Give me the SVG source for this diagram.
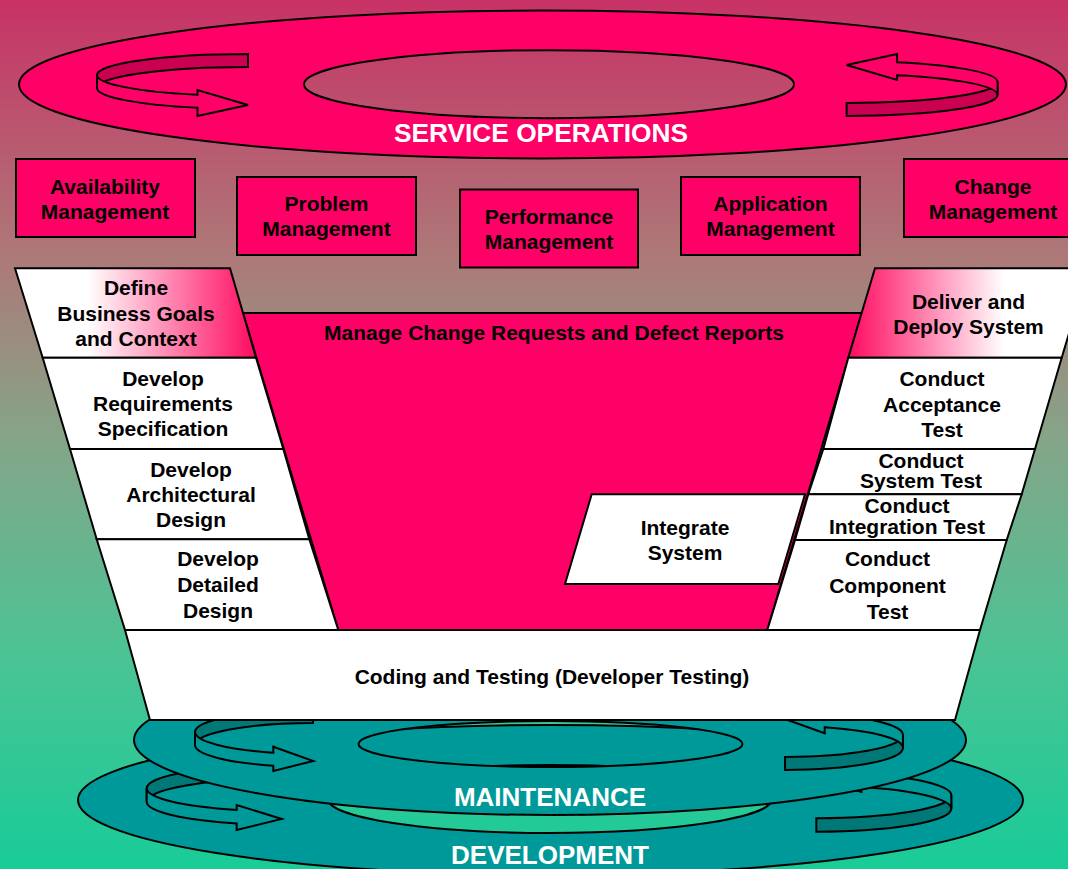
<svg xmlns="http://www.w3.org/2000/svg" width="1068" height="869" viewBox="0 0 1068 869">
<defs>
<linearGradient id="bg" gradientUnits="userSpaceOnUse" x1="0" y1="0" x2="0" y2="869">
<stop offset="0" stop-color="#C83266"/>
<stop offset="0.3" stop-color="#AC7A78"/>
<stop offset="0.5" stop-color="#86A488"/>
<stop offset="0.75" stop-color="#4CC394"/>
<stop offset="1" stop-color="#18CC98"/>
</linearGradient>
<linearGradient id="gl" x1="0" y1="0" x2="1" y2="0">
<stop offset="0" stop-color="#FFFFFF"/>
<stop offset="0.3" stop-color="#FFFFFF"/>
<stop offset="1" stop-color="#FF0A60"/>
</linearGradient>
<linearGradient id="gr" x1="0" y1="0" x2="1" y2="0">
<stop offset="0" stop-color="#FF0A60"/>
<stop offset="0.65" stop-color="#FFFFFF"/>
<stop offset="1" stop-color="#FFFFFF"/>
</linearGradient>
<path id="arrTopBack" d="M248,54 A151,21 0 0 0 97,75 L97,88 A151,21 0 0 1 248,67 Z"/>
<path id="arrTopFront" d="M97,75 A151,21 0 0 0 197.5,94.8 L197.5,90 L248,105 L197.5,116 L197.5,107.8 A151,21 0 0 1 97,88 Z"/>
<path id="arrMBack" d="M313,710 A118,22 0 0 0 195,732 L195,745 A118,22 0 0 1 313,723 Z"/>
<path id="arrMFront" d="M195,732 A118,22 0 0 0 273.3,752.7 L273.3,746.7 L313.3,761 L273.3,771 L273.3,765.7 A118,22 0 0 1 195,745 Z"/>
<path id="arrDBack" d="M281.7,765.3 A135,23 0 0 0 146.7,788.3 L146.7,801.7 A135,23 0 0 1 281.7,778.7 Z"/>
<path id="arrDFront" d="M146.7,788.3 A135,23 0 0 0 236.7,810 L236.7,805 L281.7,819 L236.7,830 L236.7,823.4 A135,23 0 0 1 146.7,801.7 Z"/>
</defs>
<style>
.s{stroke:#000;stroke-width:2;stroke-linejoin:miter}
.pk{fill:#FF0066}
.pkd{fill:#CC0050}
.tl{fill:#009999}
.tld{fill:#007878}
.wh{fill:#FFFFFF}
.t{font-family:"Liberation Sans",Arial,Helvetica,sans-serif;font-weight:bold;font-size:21px;fill:#000;text-anchor:middle}
.big{font-family:"Liberation Sans",Arial,Helvetica,sans-serif;font-weight:bold;font-size:26px;fill:#FFFFFF;text-anchor:middle}
</style>
<rect x="0" y="0" width="1068" height="869" fill="url(#bg)"/>

<g id="service-operations">
<path class="s pk" fill-rule="evenodd" d="M19,84.5 a523.5,74 0 1 0 1047,0 a523.5,74 0 1 0 -1047,0 Z M304,84.2 a245,34 0 1 0 490,0 a245,34 0 1 0 -490,0 Z"/>
<g id="service-arrow-left">
<use href="#arrTopBack" class="s pkd"/>
<use href="#arrTopFront" class="s pk"/>
</g>
<g id="service-arrow-right" transform="rotate(180 547.3 85)">
<use href="#arrTopBack" class="s pkd"/>
<use href="#arrTopFront" class="s pk"/>
</g>
<text class="big" x="541" y="142" style="font-size:26.3px">SERVICE OPERATIONS</text>
</g>

<g id="availability-management">
<rect class="s pk" x="16" y="159" width="179" height="78"/>
<text class="t" x="105" y="193.5">Availability</text>
<text class="t" x="105" y="218.5">Management</text>
</g>
<g id="problem-management">
<rect class="s pk" x="237" y="177" width="179" height="78"/>
<text class="t" x="326.5" y="211">Problem</text>
<text class="t" x="326.5" y="236">Management</text>
</g>
<g id="performance-management">
<rect class="s pk" x="460" y="189.5" width="178" height="78"/>
<text class="t" x="549" y="223.5">Performance</text>
<text class="t" x="549" y="248.5">Management</text>
</g>
<g id="application-management">
<rect class="s pk" x="681" y="177" width="179" height="78"/>
<text class="t" x="770.5" y="211">Application</text>
<text class="t" x="770.5" y="236">Management</text>
</g>
<g id="change-management">
<rect class="s pk" x="904" y="159" width="178" height="78"/>
<text class="t" x="993" y="193.5">Change</text>
<text class="t" x="993" y="218.5">Management</text>
</g>

<g id="development">
<path class="s tl" fill-rule="evenodd" d="M78,800 a472.5,75 0 1 0 945,0 a472.5,75 0 1 0 -945,0 Z M328,799 a222,34 0 1 0 444,0 a222,34 0 1 0 -444,0 Z"/>
<g id="development-arrow-left">
<use href="#arrDBack" class="s tld"/>
<use href="#arrDFront" class="s tl"/>
</g>
<g id="development-arrow-right" transform="rotate(180 549 798.5)">
<use href="#arrDBack" class="s tld"/>
<use href="#arrDFront" class="s tl"/>
</g>
<text class="big" x="550" y="864">DEVELOPMENT</text>
</g>

<g id="maintenance">
<path class="s tl" fill-rule="evenodd" d="M134,740 a416,75 0 1 0 832,0 a416,75 0 1 0 -832,0 Z M358.5,744 a192,23 0 1 0 384,0 a192,23 0 1 0 -384,0 Z"/>
<g id="maintenance-arrow-left">
<use href="#arrMBack" class="s tld"/>
<use href="#arrMFront" class="s tl"/>
</g>
<g id="maintenance-arrow-right" transform="rotate(180 549 740)">
<use href="#arrMBack" class="s tld"/>
<use href="#arrMFront" class="s tl"/>
</g>
<text class="big" x="550" y="806">MAINTENANCE</text>
</g>

<g id="manage-change-requests">
<polygon class="s pk" points="243,313 861.7,313 767.3,630 338.3,630"/>
<text class="t" x="554" y="340">Manage Change Requests and Defect Reports</text>
</g>

<g id="define-business-goals">
<polygon class="s" fill="url(#gl)" points="15,268.3 230,268.3 256,357.7 42.7,357.7"/>
<text class="t" x="136" y="294.5">Define</text>
<text class="t" x="136" y="320.5">Business Goals</text>
<text class="t" x="136" y="346">and Context</text>
</g>
<g id="develop-requirements">
<polygon class="s wh" points="42.7,357.7 256,357.7 283.3,449 70,449"/>
<text class="t" x="163" y="386">Develop</text>
<text class="t" x="163" y="411">Requirements</text>
<text class="t" x="163" y="436">Specification</text>
</g>
<g id="develop-architectural">
<polygon class="s wh" points="70,449 283.3,449 309.3,539.3 96.7,539.3"/>
<text class="t" x="191" y="477">Develop</text>
<text class="t" x="191" y="502">Architectural</text>
<text class="t" x="191" y="527">Design</text>
</g>
<g id="develop-detailed">
<polygon class="s wh" points="96.7,539.3 309.3,539.3 338.3,630 125,630"/>
<text class="t" x="218" y="566">Develop</text>
<text class="t" x="218" y="592">Detailed</text>
<text class="t" x="218" y="618">Design</text>
</g>

<g id="deliver-deploy">
<polygon class="s" fill="url(#gr)" points="875,268.3 1088.5,268.3 1061.7,357.7 848.3,357.7"/>
<text class="t" x="968.5" y="308.5">Deliver and</text>
<text class="t" x="968.5" y="334">Deploy System</text>
</g>
<g id="acceptance-test">
<polygon class="s wh" points="848.3,357.7 1061.7,357.7 1035,449 823.3,449"/>
<text class="t" x="942" y="386">Conduct</text>
<text class="t" x="942" y="411.5">Acceptance</text>
<text class="t" x="942" y="436.5">Test</text>
</g>
<g id="system-test">
<polygon class="s wh" points="823.3,449 1035,449 1021.7,494.3 808.3,494.3"/>
<text class="t" x="921" y="467.5">Conduct</text>
<text class="t" x="921" y="488">System Test</text>
</g>
<g id="integration-test">
<polygon class="s wh" points="808.3,494.3 1021.7,494.3 1006.7,540 795,540"/>
<text class="t" x="907" y="512.5">Conduct</text>
<text class="t" x="907" y="533.5">Integration Test</text>
</g>
<g id="component-test">
<polygon class="s wh" points="795,540 1006.7,540 980,630 767.3,630"/>
<text class="t" x="887.5" y="566">Conduct</text>
<text class="t" x="887.5" y="592.5">Component</text>
<text class="t" x="887.5" y="618.5">Test</text>
</g>

<g id="integrate-system">
<polygon class="s wh" points="591.7,494.3 805,494.3 778.3,584 565,584"/>
<text class="t" x="685" y="535">Integrate</text>
<text class="t" x="685" y="559.5">System</text>
</g>

<g id="coding-testing">
<polygon class="s wh" points="125,630 980,630 955,720 150,720"/>
<text class="t" x="552" y="684">Coding and Testing (Developer Testing)</text>
</g>
<g id="connectors"></g>
</svg>
